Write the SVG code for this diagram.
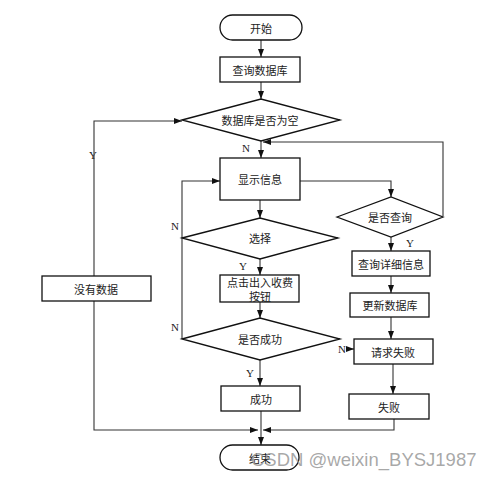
<svg xmlns="http://www.w3.org/2000/svg" width="492" height="479" viewBox="0 0 492 479">
<style>
.n{fill:#fff;stroke:#111;stroke-width:1.3}
.t{font-family:"Noto Sans CJK SC","Liberation Serif",serif;font-size:11px;fill:#222;text-anchor:middle;dominant-baseline:central}
.l{font-family:"Liberation Serif",serif;font-size:11px;fill:#222;text-anchor:middle;dominant-baseline:central}
.c{fill:none;stroke:#333;stroke-width:1.1}
</style>
<defs>
<marker id="a" viewBox="0 0 8 6" refX="8" refY="3" markerWidth="8" markerHeight="6" markerUnits="userSpaceOnUse" orient="auto">
<path d="M0,0 L8,3 L0,6 Z" fill="#111"/>
</marker>
</defs>
<rect width="492" height="479" fill="#fff"/>
<g id="connectors">
<path class="c" d="M261,40 V57" marker-end="url(#a)"/>
<path class="c" d="M261,82 V99" marker-end="url(#a)"/>
<path class="c" d="M261,141 V158" marker-end="url(#a)"/>
<path class="c" d="M443,216 V142 H263" marker-end="url(#a)"/>
<path class="c" d="M94,276 V121 H182" marker-end="url(#a)"/>
<path class="c" d="M300,181 H391 V197" marker-end="url(#a)"/>
<path class="c" d="M260,200 V218" marker-end="url(#a)"/>
<path class="c" d="M182,339 V181 H220" marker-end="url(#a)"/>
<path class="c" d="M260,259 V275" marker-end="url(#a)"/>
<path class="c" d="M260,302 V318" marker-end="url(#a)"/>
<path class="c" d="M260,360 V386" marker-end="url(#a)"/>
<path class="c" d="M391,237 V251" marker-end="url(#a)"/>
<path class="c" d="M391,276 V293" marker-end="url(#a)"/>
<path class="c" d="M391,317 V339" marker-end="url(#a)"/>
<path class="c" d="M348,349 H354" marker-end="url(#a)"/>
<path class="c" d="M393,364 V394" marker-end="url(#a)"/>
<path class="c" d="M94,300 V430 H258" marker-end="url(#a)"/>
<path class="c" d="M394,419 V430 H263" marker-end="url(#a)"/>
<path class="c" d="M261,411 V445" marker-end="url(#a)"/>
<text class="l" x="246" y="148">N</text>
<text class="l" x="93" y="155">Y</text>
<text class="l" x="175" y="226">N</text>
<text class="l" x="243" y="266">Y</text>
<text class="l" x="175" y="327">N</text>
<text class="l" x="250" y="373">Y</text>
<text class="l" x="410" y="243">Y</text>
<text class="l" x="342" y="349">N</text>
</g>
<g id="start">
<rect class="n" x="220" y="15" width="82" height="25" rx="12.5"/>
<text class="t" x="261" y="27.5">开始</text>
</g>
<g id="queryDb">
<rect class="n" x="220" y="57" width="80" height="25"/>
<text class="t" x="260" y="69.5">查询数据库</text>
</g>
<g id="dbEmpty">
<polygon class="n" points="182,120 261,99 340,120 261,141"/>
<text class="t" x="260" y="120">数据库是否为空</text>
</g>
<g id="noData">
<rect class="n" x="42" y="276" width="109" height="25"/>
<text class="t" x="96" y="288.5">没有数据</text>
</g>
<g id="display">
<rect class="n" x="220" y="158" width="80" height="42"/>
<text class="t" x="260" y="179">显示信息</text>
</g>
<g id="choose">
<polygon class="n" points="182,238 260,218 338,238 260,259"/>
<text class="t" x="260" y="238">选择</text>
</g>
<g id="clickBtn">
<rect class="n" x="220" y="275" width="79" height="27"/>
<text class="t" x="260" y="281.5">点击出入收费</text>
<text class="t" x="260" y="296">按钮</text>
</g>
<g id="success">
<polygon class="n" points="182,339 260,318 340,339 260,360"/>
<text class="t" x="260" y="339">是否成功</text>
</g>
<g id="ok">
<rect class="n" x="221" y="386" width="79" height="25"/>
<text class="t" x="261" y="398.5">成功</text>
</g>
<g id="isQuery">
<polygon class="n" points="337,217 391,197 443,217 391,237"/>
<text class="t" x="390" y="217">是否查询</text>
</g>
<g id="detail">
<rect class="n" x="352" y="251" width="78" height="25"/>
<text class="t" x="391" y="263.5">查询详细信息</text>
</g>
<g id="updateDb">
<rect class="n" x="350" y="293" width="79" height="24"/>
<text class="t" x="390" y="305">更新数据库</text>
</g>
<g id="reqFail">
<rect class="n" x="354" y="339" width="79" height="25"/>
<text class="t" x="393" y="351.5">请求失败</text>
</g>
<g id="fail">
<rect class="n" x="349" y="394" width="80" height="25"/>
<text class="t" x="389" y="406.5">失败</text>
</g>
<g id="end">
<rect class="n" x="220" y="445" width="79" height="25" rx="12.5"/>
<text class="t" x="260" y="457.5">结束</text>
</g>
<text x="251" y="466" font-family="Liberation Sans, sans-serif" font-size="18.5" fill="#999" fill-opacity="0.85">CSDN @weixin_BYSJ1987</text>
</svg>
